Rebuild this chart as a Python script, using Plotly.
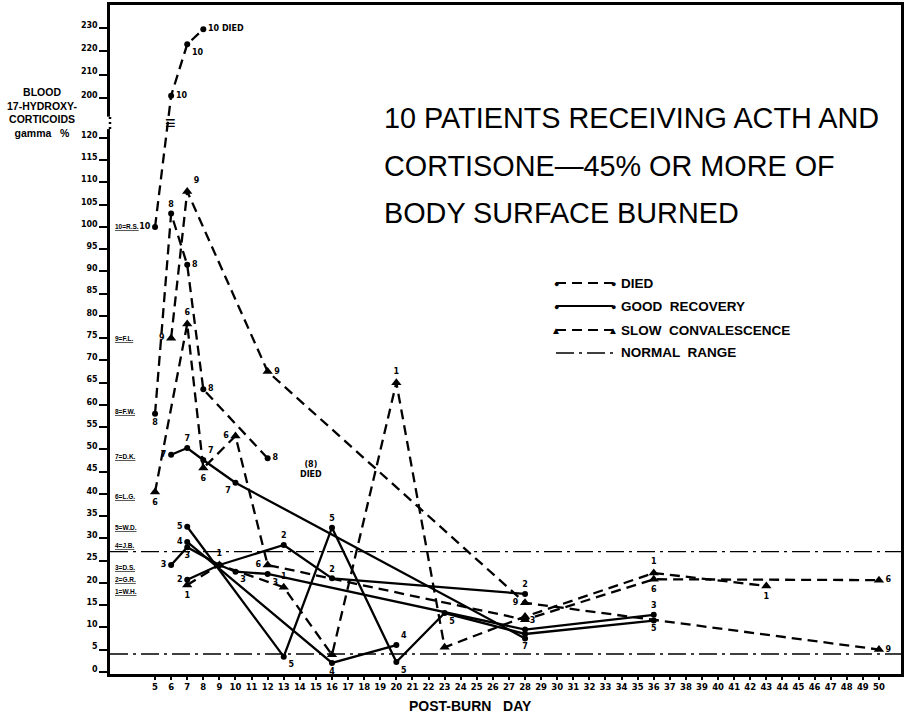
import plotly.graph_objects as go

# ---------------- data ----------------
# y axis is broken between 120 and 200 gamma %
p10_days = [5, 6, 7, 8]
p10_vals = [100, 201, 223, 229.5]
p9_days = [6, 7, 12, 28, 50]
p9_vals = [75, 108, 67.5, 15.5, 5]
p8_days = [5, 6, 7, 8, 12]
p8_vals = [58, 103, 91.5, 63.5, 48]
p7_days = [6, 7, 8, 10, 28]
p7_vals = [48.8, 50.3, 47.6, 42.5, 7.5]
p6_days = [5, 7, 8, 10, 12, 28, 36, 50]
p6_vals = [40.4, 78.2, 45.8, 53, 24, 11.7, 20.8, 20.6]
p5_days = [7, 13, 16, 20, 23, 28, 36]
p5_vals = [32.6, 3.4, 32.4, 2.2, 13.2, 8.5, 11.5]
p4_days = [7, 16, 20]
p4_vals = [29.2, 2, 6]
p3_days = [6, 7, 9, 10, 12, 28, 36]
p3_vals = [24, 28, 24, 22.5, 22, 9.5, 12.8]
p2_days = [7, 9, 13, 16, 28]
p2_vals = [20.7, 24, 28.5, 21, 17.5]
p1_days = [7, 9, 13, 16, 20, 23, 28, 36, 43]
p1_vals = [19.5, 24, 19, 3.8, 65, 5.5, 12.4, 22.2, 19.3]

# point labels (patient numbers written beside the points)
p10_text = ["10", "10", "10", "10 DIED"]
p9_text = ["9", "9", "9", "9", "9"]
p8_text = ["8", "8", "8", "8", "8"]
p7_text = ["7", "7", "7", "7", "7"]
p6_text = ["6", "6", "6", "6", "6", "", "6", "6"]
p5_text = ["5", "5", "5", "5", "5", "", "5"]
p4_text = ["4", "4", "4"]
p3_text = ["3", "3", "", "3", "3", "3", "3"]
p2_text = ["2", "", "2", "2", "2"]
p1_text = ["1", "1", "1", "", "1", "", "", "1", "1"]

normal_low = 4
normal_high = 27

patient_names = ["10=R.S.", "9=F.L.", "8=F.W.", "7=D.K.", "6=L.G.",
                 "5=W.D.", "4=J.B.", "3=D.S.", "2=G.R.", "1=W.H."]
patient_label_vals = [100, 75, 58.5, 48.3, 39.5, 32.4, 28.3, 23.4, 20.7, 18]

low_ticks = list(range(0, 125, 5))
high_ticks = [200, 210, 220, 230]
x_ticks = list(range(5, 51))

title_lines = ["10 PATIENTS RECEIVING ACTH AND", "CORTISONE—45% OR MORE OF",
               "BODY SURFACE BURNED"]
y_title_lines = ["BLOOD", "17-HYDROXY-", "CORTICOIDS", "gamma   %"]
legend_names = ["DIED", "GOOD  RECOVERY", "SLOW  CONVALESCENCE", "NORMAL  RANGE"]


def disp(v):
    """map a value onto the drawn (broken) axis"""
    return v if v <= 125 else 129.0 + (v - 200) * 0.524


# ---------------- styles ----------------
TL, TR, TC = "top left", "top right", "top center"
BL, BR, BC = "bottom left", "bottom right", "bottom center"
ML, MR = "middle left", "middle right"

patients = [
    (p10_days, p10_vals, p10_text, "died", [ML, MR, BR, MR]),
    (p9_days, p9_vals, p9_text, "slow", [ML, TR, MR, ML, MR]),
    (p8_days, p8_vals, p8_text, "died", [BC, TC, MR, MR, MR]),
    (p7_days, p7_vals, p7_text, "good", [ML, TC, TR, BL, BC]),
    (p6_days, p6_vals, p6_text, "slow", [BC, TC, BC, ML, ML, BC, BC, MR]),
    (p5_days, p5_vals, p5_text, "good", [ML, BR, TC, BR, BR, BR, BC]),
    (p4_days, p4_vals, p4_text, "good", [ML, BC, TR]),
    (p3_days, p3_vals, p3_text, "good", [ML, BC, TC, BR, BR, TR, TC]),
    (p2_days, p2_vals, p2_text, "good", [ML, TC, TC, TC, TC]),
    (p1_days, p1_vals, p1_text, "slow", [BC, TC, TC, TC, TC, TC, TC, TC, BC]),
]

DASH = "10px,6px"
DASHDOT = "18px,5px,3px,5px"
style = {
    "died": dict(dash=DASH, symbol="circle", size=6),
    "good": dict(dash="solid", symbol="circle", size=6),
    "slow": dict(dash=DASH, symbol="triangle-up", size=9),
}
W, H = 904, 719
L, R, T, B = 110, 3, 5, 45
PW, PH = W - L - R, H - T - B


def px(xp):
    return (xp - L) / PW


def py(yp):
    return (H - B - yp) / PH


fig = go.Figure()
for d, v, txt, cat, tp in patients:
    s = style[cat]
    fig.add_trace(go.Scatter(
        x=d, y=[disp(a) for a in v], mode="lines+markers+text",
        text=txt, textposition=tp,
        textfont=dict(family="DejaVu Sans", size=8, color="black", weight="bold"),
        line=dict(color="black", width=2.3, dash=s["dash"]),
        marker=dict(color="black", size=s["size"], symbol=s["symbol"]),
        showlegend=False, cliponaxis=False))

for nv in (normal_low, normal_high):
    fig.add_hline(y=nv, line=dict(color="black", width=1.3, dash=DASHDOT))

tickvals = [disp(t) for t in low_ticks] + [disp(t) for t in high_ticks]
ticktext = [str(t) for t in low_ticks] + [str(t) for t in high_ticks]

fig.update_yaxes(range=[-0.5, 149.9], tickvals=tickvals, ticktext=ticktext,
                 showline=True, linewidth=2.5, linecolor="black", mirror=True,
                 ticks="outside", ticklen=8, tickwidth=1.5, tickcolor="black",
                 ticklabelshift=-3, ticklabelstandoff=0,
                 showgrid=False, zeroline=False, automargin=False,
                 tickfont=dict(family="DejaVu Sans", size=8, color="black", weight="bold"))
fig.update_xaxes(range=[2.2, 51.37], tickvals=x_ticks, ticktext=[str(t) for t in x_ticks],
                 showline=True, linewidth=3, linecolor="black", mirror=True,
                 ticks="outside", ticklen=3, tickwidth=1.5, tickcolor="black",
                 showgrid=False, zeroline=False, tickangle=0, automargin=False,
                 tickfont=dict(family="DejaVu Sans", size=8.5, color="black", weight="bold"))

ann = []
# break of the y axis
fig.add_shape(type="rect", xref="paper", yref="y", x0=-0.006, x1=0.006,
              y0=disp(122.0), y1=disp(124.8), fillcolor="white", line=dict(width=0))
fig.add_shape(type="line", xref="paper", yref="y", x0=0, x1=0,
              y0=disp(122.0), y1=disp(124.8), line=dict(color="black", width=2.5,
                                                      dash="2px,3px"))
ann.append(dict(x=5.95, y=disp(123.5), xref="x", yref="y", text="≡", showarrow=False,
                font=dict(size=18, color="black")))

# patient key next to axis
for name, val in zip(patient_names, patient_label_vals):
    ann.append(dict(x=px(113), y=val, xref="paper", yref="y", text="<u>" + name + "</u>",
                    xanchor="left", showarrow=False,
                    font=dict(family="Liberation Sans", size=6.5, color="black",
                              weight="bold")))

ann.append(dict(x=14.7, y=45.5, xref="x", yref="y", text="(8)<br>DIED", showarrow=False,
                font=dict(family="DejaVu Sans", size=8, color="black", weight="bold")))

# title block
for i, t in enumerate(title_lines):
    ann.append(dict(x=px(382), y=py(118 + i * 47.5), xref="paper", yref="paper",
                    text=t, xanchor="left", yanchor="middle", showarrow=False,
                    font=dict(family="Liberation Sans", size=28.8, color="black")))

# axis titles
ann.append(dict(x=px(42), y=py(84), xref="paper", yref="paper",
                text="<br>".join(y_title_lines), xanchor="center", yanchor="top",
                align="center", showarrow=False,
                font=dict(family="Liberation Sans", size=10.5, color="black",
                          weight="bold")))
ann.append(dict(x=px(470), y=py(706), xref="paper", yref="paper", xanchor="center",
                yanchor="middle", text="POST-BURN   DAY", showarrow=False,
                font=dict(family="Liberation Sans", size=14, color="black", weight="bold")))

# manual legend
leg_rows = [(legend_names[0], DASH, "●", 283), (legend_names[1], "solid", "●", 306),
            (legend_names[2], DASH, "▲", 330), (legend_names[3], DASHDOT, None, 353)]
for text, dash, glyph, ypx in leg_rows:
    yp = py(ypx)
    x0, x1 = px(556), px(613)
    fig.add_shape(type="line", xref="paper", yref="paper", x0=x0, x1=x1, y0=yp, y1=yp,
                  line=dict(color="black", width=2 if dash != DASHDOT else 1.6, dash=dash))
    if glyph:
        for xx in (x0, x1):
            ann.append(dict(x=xx, y=yp, xref="paper", yref="paper", text=glyph,
                            showarrow=False, xanchor="center", yanchor="middle",
                            font=dict(size=9 if glyph == "●" else 10, color="black")))
    ann.append(dict(x=px(619), y=yp, xref="paper", yref="paper", text=text,
                    xanchor="left", yanchor="middle", showarrow=False,
                    font=dict(family="Liberation Sans", size=13.5, color="black",
                              weight="bold")))

fig.update_layout(width=W, height=H, margin=dict(l=L, r=R, t=T, b=B, autoexpand=False),
                  paper_bgcolor="white", plot_bgcolor="white", annotations=ann,
                  showlegend=False)

fig.write_html("out.html", config={"displayModeBar": False},
               post_script="document.body.style.margin='0';"
               "document.body.style.overflow='hidden';")
